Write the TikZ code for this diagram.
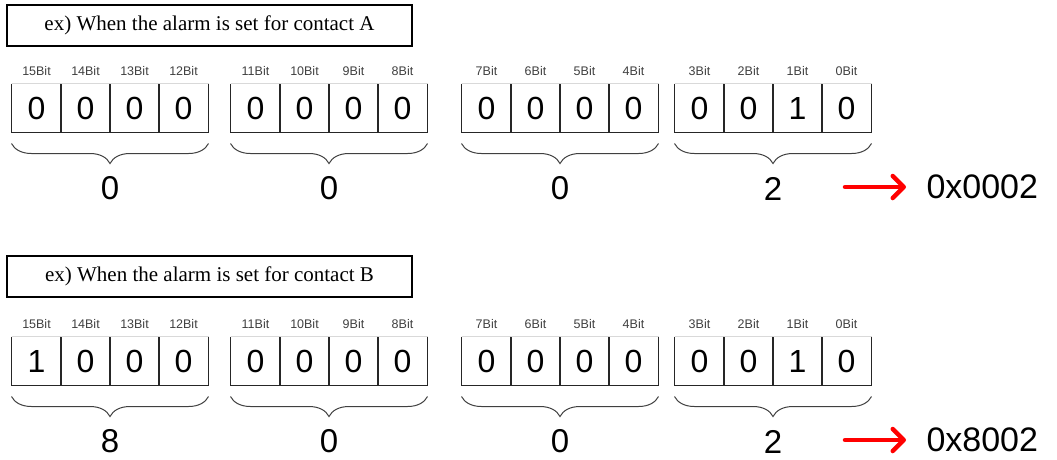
\documentclass[tikz,border=0pt]{standalone}
\usepackage{fontspec}
\setmainfont{Liberation Serif}
\setsansfont{Liberation Sans}
\usetikzlibrary{arrows.meta,calc,decorations.pathreplacing}

\begin{document}
\begin{tikzpicture}[x=1pt,y=-1pt,line width=1pt,>=Stealth,
  titlebox/.style={draw,line width=1.8pt,minimum width=405pt,minimum height=41pt,inner sep=0pt,font=\fontsize{21}{24}\selectfont},
  bitcell/.style={minimum width=49pt,minimum height=48pt,inner sep=0pt,font=\sffamily\fontsize{32}{36}\selectfont},
  bitlabel/.style={font=\sffamily\fontsize{12.5}{14}\selectfont,text=black!75,inner sep=0pt},
  hexdigit/.style={font=\sffamily\fontsize{33}{38}\selectfont,inner sep=0pt},
  grpbrace/.style={decorate,decoration={brace,mirror,amplitude=20pt},line width=1pt,draw=black!75},
  result/.style={font=\sffamily\fontsize{34}{38}\selectfont,inner sep=0pt,anchor=west},
  redarrow/.style={draw=red,line width=4.5pt,line cap=round,-{Straight Barb[length=11pt,width=22pt,line cap=round,line join=round]}}]
\useasboundingbox (0,0) rectangle (1057,459);
% ---------- two examples, contact A and contact B ----------
\foreach \panel/\dy/\ty/\ttl/\res/\hexA/\msb in {A/0/25.5/A/0x0002/0/0, B/253/23.5/B/0x8002/8/1}{
\begin{scope}[yshift=-\dy pt]
% title
\node[titlebox] (title\panel) at (209.5,\ty) {ex) When the alarm is set for contact \ttl};
% four nibbles
\foreach \g/\gx/\hex/\va/\vb/\vc/\vd in {0/12/\hexA/\msb/0/0/0, 1/231/0/0/0/0/0, 2/462/0/0/0/0/0, 3/675/2/0/0/1/0}{
  \foreach \val [count=\k from 0] in {\va,\vb,\vc,\vd}{
    \pgfmathtruncatemacro\bit{15-4*\g-\k}
    \node[bitcell] (c\panel\bit) at (\gx+24.5+49*\k,108) {\val};
    \draw[black!15,line width=0.6pt] (c\panel\bit.north west) -- (c\panel\bit.north east);
    \draw[black!85] (c\panel\bit.north west) -- (c\panel\bit.south west) -- (c\panel\bit.south east) -- (c\panel\bit.north east);
    \node[bitlabel] (l\panel\bit) at ([yshift=12pt]c\panel\bit.north) {\bit Bit};
  }
  % brace and hex digit
  \pgfmathtruncatemacro\hi{15-4*\g}
  \pgfmathtruncatemacro\lo{12-4*\g}
  \draw[grpbrace] ([yshift=-11pt]c\panel\hi.south west) -- ([yshift=-11pt]c\panel\lo.south east);
  \node[hexdigit] (h\panel\g) at ($(c\panel\hi.south west)!0.5!(c\panel\lo.south east)+(0,56)$) {\hex};
}
% result
\node[result] (res\panel) at (926,187) {\res};
\coordinate (arr\panel) at (845,187);
\draw[redarrow,shorten >=20pt] (arr\panel) -- (res\panel.west);
\end{scope}
}
\end{tikzpicture}
\end{document}
